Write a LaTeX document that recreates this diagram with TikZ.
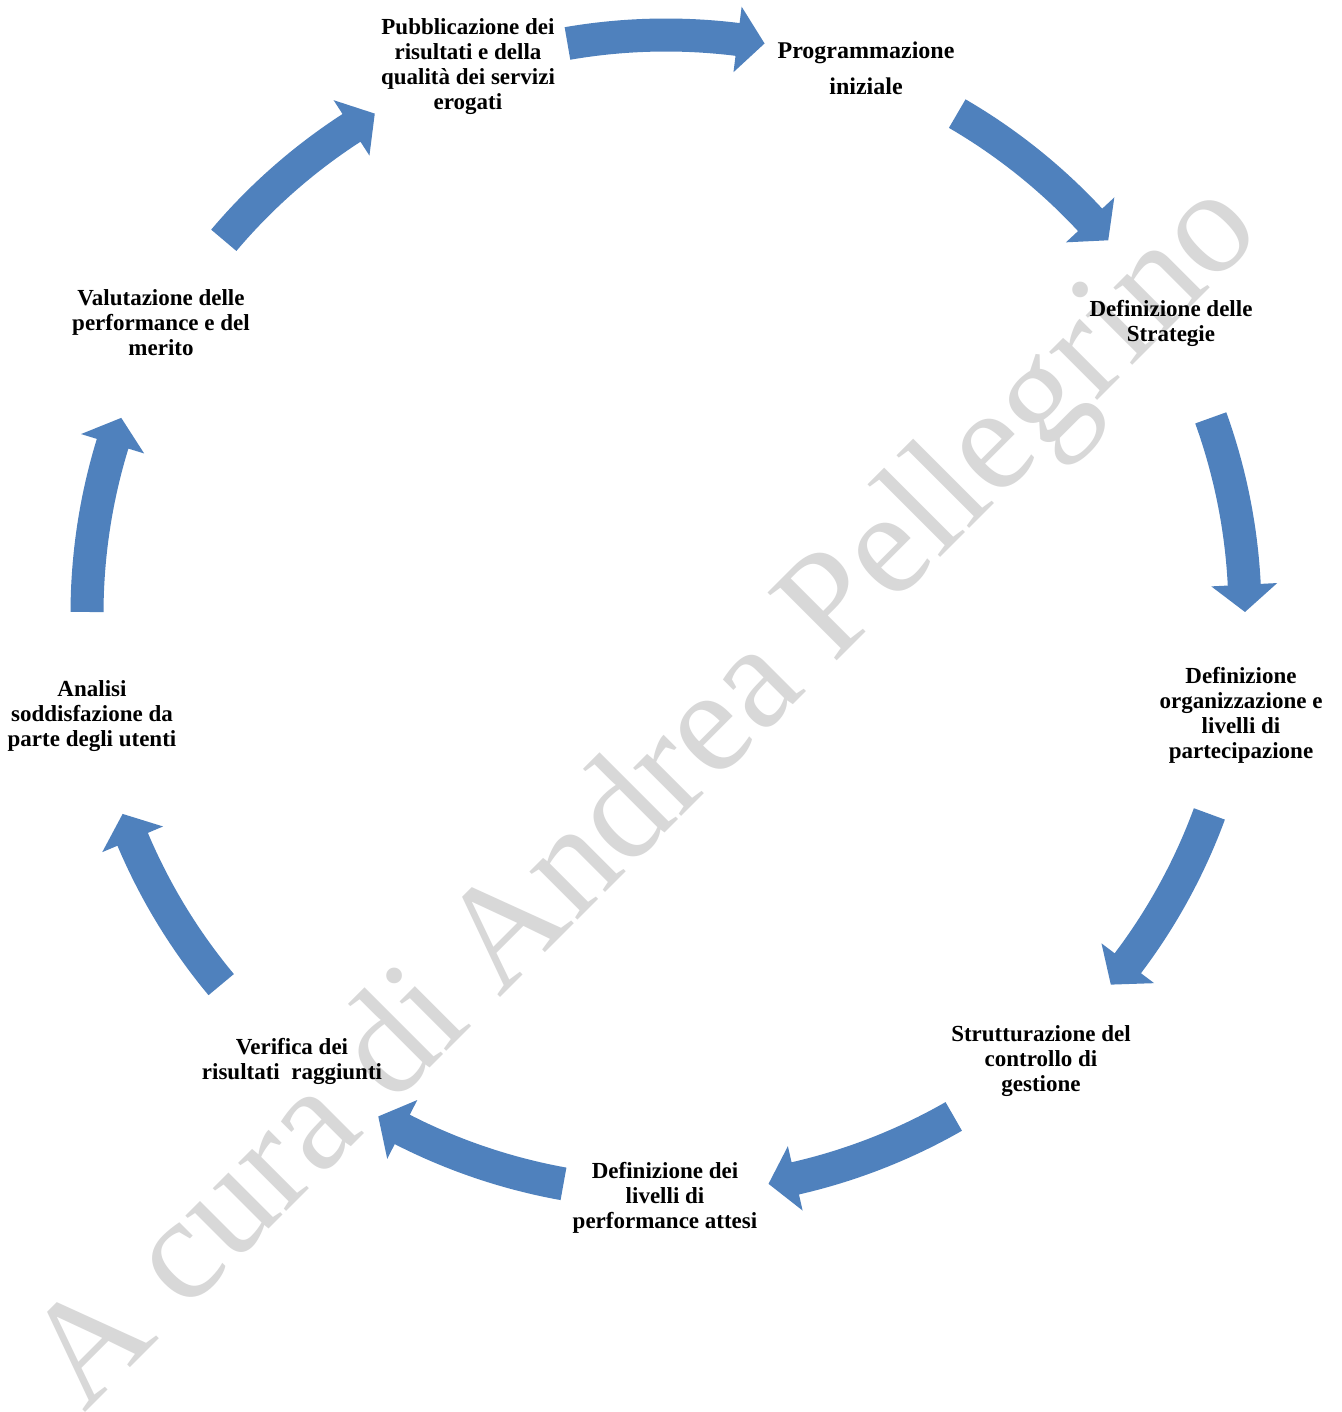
\documentclass[tikz,border=0pt]{standalone}
\usepackage{fontspec}
\setmainfont{Liberation Serif}
\usetikzlibrary{calc}
\definecolor{arrowblue}{RGB}{79,129,189}
\definecolor{wmgray}{RGB}{216,216,216}
\tikzset{
  lbl/.style={align=center, inner sep=0pt, font=\bfseries\fontsize{23}{25}\selectfont},
  arrowfill/.style={fill=arrowblue},
  wm/.style={text=wmgray, inner sep=0pt, anchor=base west, font=\fontsize{148}{148}\selectfont}
}
\begin{document}
\begin{tikzpicture}[x=1pt,y=1pt]
\useasboundingbox (0,0) rectangle (1341,-1412);
\fill[white] (0,0) rectangle (1341,-1412);
% watermark
\node[wm, rotate=45] (wmark) at (84,-1414) {A cura di Andrea Pellegrino};
% centre of the cycle
\coordinate (C) at (666,-614);
% arrows
\foreach \c in {90,50,10,-30,-70,-110,-150,170,130}{
  \pgfmathsetmacro\ta{\c+9.8}
  \pgfmathsetmacro\tb{\c-9.8}
  \pgfmathsetmacro\th{\c-9.8+2.7}
  \fill[arrowfill] ($(C)+(\ta:595.5)$) arc[start angle=\ta, end angle=\th, radius=595.5]
     -- ($(C)+(\th:612)$) -- ($(C)+(\tb:579)$) -- ($(C)+(\th:546)$)
     -- ($(C)+(\th:562.5)$) arc[start angle=\th, end angle=\ta, radius=562.5] -- cycle;
}
% labels
\node[lbl] (n1) at (468,-67) {Pubblicazione dei\\risultati e della\\qualità dei servizi\\erogati};
\node[lbl, font=\bfseries\fontsize{24}{36}\selectfont] (n2) at (866,-68) {Programmazione\\iniziale};
\node[lbl] (n3) at (1171,-323) {Definizione delle\\Strategie};
\node[lbl] (n4) at (1241,-715) {Definizione\\organizzazione e\\livelli di\\partecipazione};
\node[lbl] (n5) at (1041,-1061) {Strutturazione del\\controllo di\\gestione};
\node[lbl] (n6) at (665,-1198) {Definizione dei\\livelli di\\performance attesi};
\node[lbl] (n7) at (292,-1061) {Verifica dei\\risultati\ \ raggiunti};
\node[lbl] (n8) at (92,-716) {Analisi\\soddisfazione da\\parte degli utenti};
\node[lbl] (n9) at (161,-323) {Valutazione delle\\performance e del\\merito};
\end{tikzpicture}
\end{document}
